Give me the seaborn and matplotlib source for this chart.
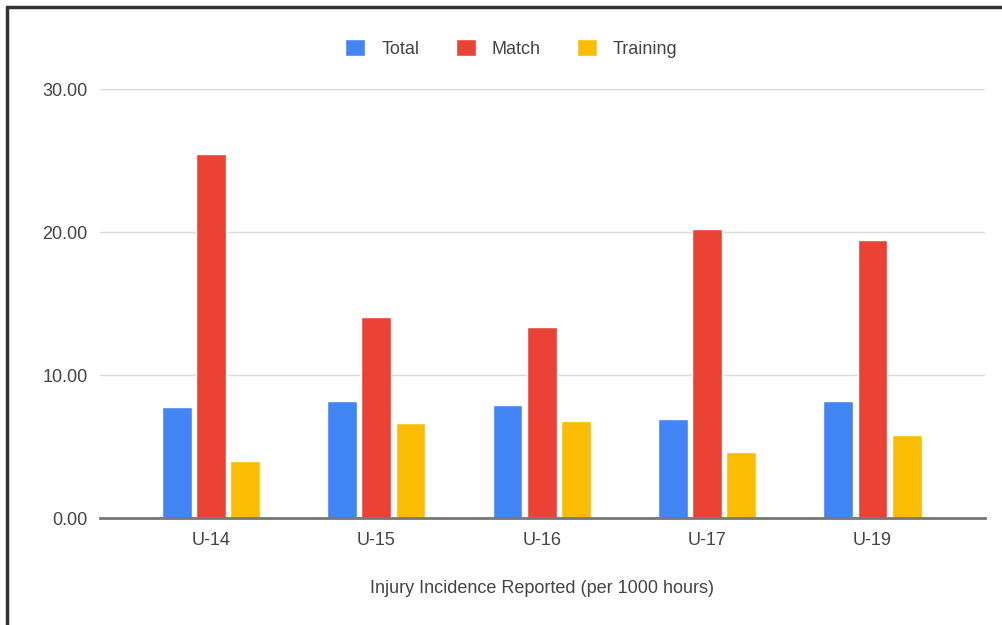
import matplotlib.pyplot as plt
import pandas as pd
import seaborn as sns
from matplotlib.lines import Line2D

# Data
groups = ['U-14', 'U-15', 'U-16', 'U-17', 'U-19']
total = [7.8, 8.2, 7.95, 6.95, 8.2]
match = [25.45, 14.1, 13.35, 20.25, 19.5]
training = [4.0, 6.65, 6.8, 4.65, 5.8]
series = ['Total', 'Match', 'Training']
colors = ['#4285F4', '#EA4335', '#FBBC04']

df = pd.DataFrame({'Group': groups, 'Total': total, 'Match': match, 'Training': training})
df_long = df.melt(id_vars='Group', var_name='Series', value_name='Value')

sns.set_style('white')
plt.rcParams['font.family'] = ['Liberation Sans', 'DejaVu Sans']
text_color = '#444444'
fs = 13

fig = plt.figure(figsize=(10.03, 6.25), dpi=100)
ax = fig.add_axes([0.0997, 0.1707, 0.8823, 0.6863])

sns.barplot(data=df_long, x='Group', y='Value', hue='Series', hue_order=series,
            palette=colors, width=0.62, gap=0.13, saturation=1, ax=ax)

ax.set_ylim(0, 30)
ax.set_yticks([0, 10, 20, 30])
ax.set_yticklabels(['0.00', '10.00', '20.00', '30.00'])
ax.set_xlim(-0.67, 4.68)
ax.grid(axis='y', color='#d9d9d9', lw=1)
ax.set_axisbelow(True)
for s in ['top', 'right', 'left']:
    ax.spines[s].set_visible(False)
ax.spines['bottom'].set_color('#777777')
ax.spines['bottom'].set_linewidth(2)
ax.spines['bottom'].set_zorder(5)
ax.tick_params(axis='both', length=0, labelsize=fs, labelcolor=text_color)
ax.tick_params(axis='y', pad=9)
ax.tick_params(axis='x', pad=10)
ax.set_ylabel('')
ax.set_xlabel('Injury Incidence Reported (per 1000 hours)', fontsize=fs,
              color=text_color, labelpad=22)

handles, labels = ax.get_legend_handles_labels()
ax.legend(handles, labels, loc='center', bbox_to_anchor=(0.51, 0.923),
          bbox_transform=fig.transFigure, ncol=3, frameon=False, fontsize=fs,
          labelcolor=text_color, handlelength=1.1, handleheight=1.1,
          handletextpad=0.9, columnspacing=2.0)

# frame lines of the original image (top and left only)
fig.add_artist(Line2D([0.007, 1.0], [0.989, 0.989], color='#333333', lw=2.5,
                      transform=fig.transFigure))
fig.add_artist(Line2D([0.007, 0.007], [0.0, 0.989], color='#333333', lw=2.5,
                      transform=fig.transFigure))

fig.savefig('out.png', dpi=100)
